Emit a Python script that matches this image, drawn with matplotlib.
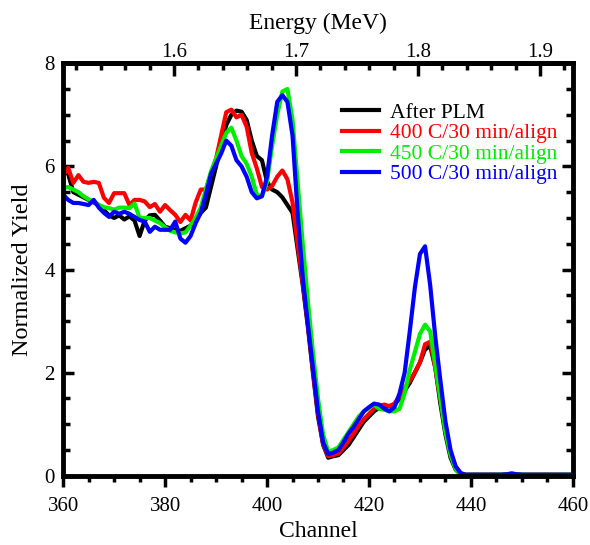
import numpy as np
import matplotlib
matplotlib.use("Agg")
import matplotlib.pyplot as plt

plt.rcParams['font.family'] = ['Liberation Serif', 'DejaVu Serif']

# canales 360..460
canal = np.arange(360, 461)

# cola plana despues del canal 440 (441..460)
cola = [0.02, 0.02, 0.02, 0.02, 0.02, 0.02, 0.03, 0.04, 0.03, 0.02,
        0.02, 0.02, 0.02, 0.02, 0.02, 0.02, 0.02, 0.02, 0.02, 0.02]

after_plm = [5.95, 5.85, 5.5, 5.45, 5.4, 5.35, 5.3, 5.25, 5.15, 5.05,
             5.0, 5.05, 4.97, 5.03, 4.95, 4.65, 4.95, 5.05, 5.06, 4.95,
             4.83, 4.8, 4.77, 4.75, 4.8, 4.85, 4.95, 5.1, 5.2, 5.6,
             6.0, 6.4, 6.8, 7.0, 7.08, 7.06, 6.9, 6.5, 6.2, 6.12,
             5.7, 5.55, 5.5, 5.4, 5.25, 5.1, 4.4, 3.7, 2.9, 2.0,
             1.15, 0.6, 0.35, 0.38, 0.4, 0.5, 0.6, 0.75, 0.9, 1.05,
             1.15, 1.25, 1.32, 1.35, 1.35, 1.38, 1.5, 1.65, 1.8, 2.0,
             2.2, 2.45, 2.52, 2.1, 1.4, 0.8, 0.35, 0.12, 0.03, 0.02,
             0.02] + cola

c400 = [5.83, 5.97, 5.68, 5.83, 5.7, 5.68, 5.7, 5.68, 5.39, 5.29,
        5.48, 5.48, 5.48, 5.25, 5.35, 5.35, 5.32, 5.21, 5.27, 5.12,
        5.25, 5.15, 5.06, 4.92, 5.06, 4.95, 5.3, 5.55, 5.55, 5.85,
        6.15, 6.6, 7.05, 7.1, 6.95, 7.0, 6.77, 6.26, 5.96, 5.6,
        5.55, 5.62, 5.8, 5.92, 5.75, 5.3, 4.5, 3.75, 2.95, 2.05,
        1.2, 0.62, 0.38, 0.4, 0.43, 0.55, 0.68, 0.82, 0.97, 1.1,
        1.2, 1.3, 1.36, 1.38, 1.35, 1.4, 1.55, 1.7, 1.85, 2.0,
        2.2, 2.55, 2.6, 2.1, 1.5, 0.9, 0.45, 0.18, 0.05, 0.02,
        0.02] + cola

c450 = [5.58, 5.6, 5.55, 5.5, 5.42, 5.36, 5.32, 5.25, 5.21, 5.19,
        5.16, 5.2, 5.2, 5.19, 5.28, 5.0, 5.0, 5.0, 4.95, 4.9,
        4.82, 4.75, 4.72, 4.7, 4.72, 4.85, 5.0, 5.2, 5.55, 5.9,
        6.15, 6.4, 6.65, 6.75, 6.5, 6.2, 6.05, 5.8, 5.45, 5.42,
        5.7, 6.4, 7.0, 7.45, 7.5, 6.9, 5.7, 4.5, 3.4, 2.4,
        1.5, 0.8, 0.47, 0.5, 0.55, 0.7, 0.85, 1.0, 1.15, 1.25,
        1.32, 1.38, 1.3, 1.28, 1.25, 1.25, 1.3, 1.6, 2.05, 2.4,
        2.75, 2.93, 2.8, 2.15, 1.5, 0.85, 0.4, 0.13, 0.03, 0.02,
        0.02] + cola

c500 = [5.45, 5.35, 5.29, 5.29, 5.27, 5.25, 5.35, 5.2, 5.1, 5.02,
        5.12, 5.08, 5.12, 5.08, 5.02, 4.96, 4.93, 4.73, 4.83, 4.77,
        4.77, 4.77, 4.93, 4.6, 4.52, 4.65, 4.9, 5.1, 5.45, 5.85,
        6.05, 6.25, 6.5, 6.4, 6.12, 6.0, 5.8, 5.5, 5.38, 5.42,
        5.8, 6.6, 7.25, 7.38, 7.25, 6.6, 5.1, 3.85, 2.95, 2.1,
        1.25, 0.65, 0.42, 0.45, 0.5, 0.65, 0.82, 0.95, 1.1, 1.25,
        1.33, 1.4, 1.38, 1.3, 1.25, 1.33, 1.6, 2.0, 2.8, 3.65,
        4.3, 4.45, 3.7, 2.7, 1.85, 1.05, 0.5, 0.18, 0.05, 0.02,
        0.02] + cola

series = [after_plm, c400, c450, c500]
etiquetas = ['After PLM', '400 C/30 min/align', '450 C/30 min/align', '500 C/30 min/align']
colores = ['black', '#ff0000', '#00ee00', '#0000ff']

# calibracion energia = a + b*canal
a_cal = 0.00435
b_cal = 0.0041797

fig = plt.figure(figsize=(5.9, 5.45), dpi=100)
ax = fig.add_axes([0.107, 0.127, 0.864, 0.757])

for y, lab, col in zip(series, etiquetas, colores):
    ax.plot(canal, y, color=col, lw=3, label=lab)

ax.set_xlim(360, 460)
ax.set_ylim(0, 8)
ax.set_xticks(np.arange(360, 461, 20))
ax.set_xticks(np.arange(360, 461, 5), minor=True)
ax.set_yticks(np.arange(0, 9, 2))
ax.set_yticks(np.arange(0, 8.1, 0.5), minor=True)

for s in ax.spines.values():
    s.set_linewidth(3.5)

ax.tick_params(axis='x', which='both', direction='out', bottom=True, top=False,
               labelsize=15, width=2.5, pad=7)
ax.tick_params(axis='x', which='major', length=8)
ax.tick_params(axis='x', which='minor', length=4)
ax.tick_params(axis='y', which='both', direction='in', left=True, right=True,
               labelsize=15, width=2.5, pad=6)
ax.tick_params(axis='y', which='major', length=8)
ax.tick_params(axis='y', which='minor', length=5)

ax.set_xlabel('Channel', fontsize=17, labelpad=4)
ax.set_ylabel('Normalized Yield', fontsize=17.5, labelpad=8)

# eje superior de energia
sec = ax.secondary_xaxis('top', functions=(lambda c: a_cal + b_cal * c,
                                           lambda e: (e - a_cal) / b_cal))
sec.set_xticks([1.6, 1.7, 1.8, 1.9])
sec.set_xticks(np.arange(1.52, 1.93, 0.02), minor=True)
sec.tick_params(which='both', direction='in', labelsize=15, width=2.5, pad=1)
sec.tick_params(which='major', length=9)
sec.tick_params(which='minor', length=5)
sec.spines['top'].set_linewidth(3.5)
sec.set_xlabel('Energy (MeV)', fontsize=17, labelpad=10)

leg = ax.legend(loc='upper left', bbox_to_anchor=(0.53, 0.925), frameon=False,
                fontsize=15.5, handlelength=1.7, handletextpad=0.55,
                labelspacing=0.02, borderaxespad=0)
for txt, col in zip(leg.get_texts(), colores):
    txt.set_color(col)

fig.savefig('out.png', dpi=100)
